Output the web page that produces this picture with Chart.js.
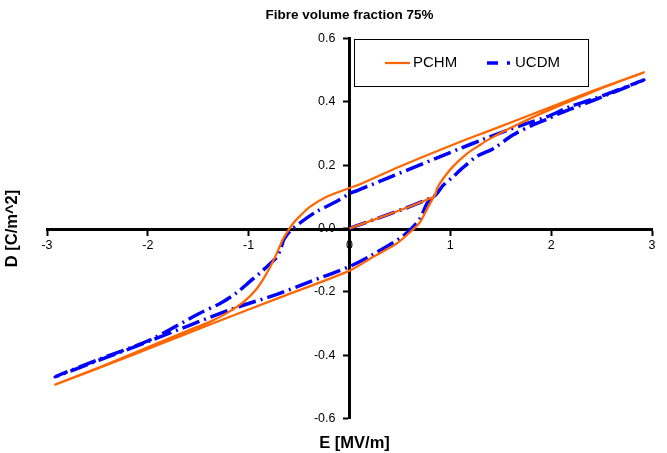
<!DOCTYPE html>
<html>
<head>
<meta charset="utf-8">
<script src="https://cdn.jsdelivr.net/npm/chart.js@4.4.1/dist/chart.umd.min.js"></script>
<style>
  html, body { margin: 0; padding: 0; background: #fff; }
  #wrap { width: 667px; height: 453px; position: relative; }
</style>
</head>
<body>
<div id="wrap"><canvas id="c" width="667" height="453"></canvas></div>
<script>
// ---- Data ----
const chartTitle = 'Fibre volume fraction 75%';
const xTitle = 'E [MV/m]';
const yTitle = 'D [C/m^2]';
const seriesNames = ['PCHM', 'UCDM'];

const xTicks = [-3, -2, -1, 0, 1, 2, 3];
const yTicks = [-0.6, -0.4, -0.2, 0.0, 0.2, 0.4, 0.6];

// PCHM: initial curve, ascending to +Emax, descending to -Emax, ascending back to join point
const pchmE = [0, 0.835, 0.87, 0.93, 1.03, 1.16, 1.29, 1.39, 1.6, 1.92, 2.4, 2.92,
  2.4, 1.9, 1.39, 1.1, 0.5, 0.104, 0, -0.226, -0.39, -0.49, -0.56, -0.62, -0.67, -0.71, -0.76, -0.84, -0.92, -1.05, -1.22, -1.38, -1.6, -1.9, -2.4, -2.92,
  -2.4, -1.9, -1.39, -0.7, 0, 0.236, 0.47, 0.62, 0.70, 0.77, 0.835];
const pchmD = [0, 0.100, 0.128, 0.158, 0.197, 0.235, 0.263, 0.283, 0.318, 0.366, 0.430, 0.493,
  0.433, 0.372, 0.309, 0.274, 0.196, 0.140, 0.128, 0.100, 0.069, 0.040, 0.016, -0.012, -0.040, -0.070, -0.105, -0.152, -0.190, -0.232, -0.268, -0.294, -0.322, -0.362, -0.428, -0.493,
  -0.430, -0.368, -0.304, -0.219, -0.133, -0.089, -0.047, -0.006, 0.020, 0.062, 0.100];

// UCDM: same path order
const ucdmE = [0, 0.83, 0.93, 1.03, 1.10, 1.26, 1.43, 1.62, 1.82, 1.96, 2.09, 2.42, 2.92,
  2.42, 2.19, 1.96, 1.76, 1.53, 1.33, 1.1, 0.07, 0, -0.13, -0.33, -0.49, -0.59, -0.65, -0.68, -0.72, -0.79, -0.89, -0.99, -1.12, -1.28, -1.5, -1.98, -2.5, -2.92,
  -2.5, -1.98, -1.19, -0.72, -0.39, 0, 0.2, 0.5, 0.6, 0.7, 0.77, 0.83];
const ucdmD = [0, 0.100, 0.137, 0.164, 0.185, 0.227, 0.253, 0.295, 0.327, 0.345, 0.364, 0.405, 0.469,
  0.409, 0.385, 0.353, 0.332, 0.306, 0.282, 0.253, 0.119, 0.110, 0.085, 0.053, 0.018, -0.008, -0.034, -0.062, -0.090, -0.112, -0.141, -0.168, -0.203, -0.236, -0.270, -0.352, -0.415, -0.468,
  -0.418, -0.355, -0.257, -0.208, -0.168, -0.120, -0.088, -0.031, -0.005, 0.032, 0.080, 0.100];

// ---- Build chart ----
const FONT = '"Liberation Sans", Arial, Helvetica, sans-serif';
const ORANGE = '#ff6600';
const BLUE = '#0000ff';
const BLUE_DASH = [18, 5, 2, 5];

function toPoints(xs, ys) { return xs.map((x, i) => ({ x: x, y: ys[i] })); }

const overlay = {
  id: 'overlay',
  afterDraw(chart) {
    const ctx = chart.ctx;
    const a = chart.chartArea;
    ctx.save();
    // axis titles
    ctx.fillStyle = '#000';
    ctx.font = 'bold 16.5px ' + FONT;
    ctx.textAlign = 'center';
    ctx.textBaseline = 'middle';
    ctx.fillText(xTitle, (a.left + a.right) / 2 + 5, a.bottom + 25);
    ctx.save();
    ctx.translate(12, (a.top + a.bottom) / 2);
    ctx.rotate(-Math.PI / 2);
    ctx.fillText(yTitle, 0, 0);
    ctx.restore();

    // legend box
    const bx = 354.5, by = 39.5, bw = 234, bh = 47;
    ctx.fillStyle = '#fff';
    ctx.fillRect(bx, by, bw, bh);
    ctx.strokeStyle = '#000';
    ctx.lineWidth = 1;
    ctx.strokeRect(bx, by, bw, bh);
    const ly = by + 23.5;
    const ds = chart.data.datasets;
    // PCHM
    ctx.beginPath();
    ctx.strokeStyle = ds[0].borderColor;
    ctx.lineWidth = ds[0].borderWidth;
    ctx.moveTo(385, ly); ctx.lineTo(410, ly);
    ctx.stroke();
    ctx.fillStyle = '#000';
    ctx.font = '15px ' + FONT;
    ctx.textAlign = 'left';
    ctx.fillText(ds[0].label, 413, ly);
    // UCDM
    ctx.beginPath();
    ctx.strokeStyle = ds[1].borderColor;
    ctx.lineWidth = ds[1].borderWidth;
    ctx.moveTo(487, ly); ctx.lineTo(498, ly);
    ctx.stroke();
    ctx.beginPath();
    ctx.moveTo(507, ly); ctx.lineTo(510, ly);
    ctx.stroke();
    ctx.fillText(ds[1].label, 515, ly);
    ctx.restore();
  }
};

new Chart(document.getElementById('c'), {
  type: 'scatter',
  data: {
    datasets: [
      {
        label: seriesNames[0],
        data: toPoints(pchmE, pchmD),
        showLine: true,
        borderColor: ORANGE,
        backgroundColor: ORANGE,
        borderWidth: 2.25,
        pointRadius: 0,
        tension: 0.3,
        fill: false
      },
      {
        label: seriesNames[1],
        data: toPoints(ucdmE, ucdmD),
        showLine: true,
        borderColor: BLUE,
        backgroundColor: BLUE,
        borderWidth: 3.5,
        borderDash: BLUE_DASH,
        pointRadius: 0,
        tension: 0.3,
        fill: false
      }
    ]
  },
  options: {
    responsive: false,
    animation: false,
    devicePixelRatio: 1,
    layout: { padding: { left: 47, right: 15, top: 0, bottom: 34.5 } },
    plugins: {
      legend: { display: false },
      tooltip: { enabled: false },
      title: {
        display: true,
        text: chartTitle,
        color: '#000',
        font: { family: FONT, size: 13.5, weight: 'bold' },
        padding: { top: 7, bottom: 15.3 }
      }
    },
    scales: {
      x: {
        type: 'linear',
        min: xTicks[0],
        max: xTicks[xTicks.length - 1],
        position: 'center',
        afterBuildTicks: (s) => { s.ticks = xTicks.map(v => ({ value: v })); },
        ticks: {
          color: '#000',
          font: { family: FONT, size: 12.5 },
          padding: 5,
          maxRotation: 0,
          callback: (v) => String(v)
        },
        grid: { drawOnChartArea: false, drawTicks: true, tickLength: 5, tickColor: '#000', tickWidth: 2 },
        border: { color: '#000', width: 3 }
      },
      y: {
        type: 'linear',
        min: yTicks[0],
        max: yTicks[yTicks.length - 1],
        position: 'center',
        afterBuildTicks: (s) => { s.ticks = yTicks.map(v => ({ value: v })); },
        ticks: {
          color: '#000',
          font: { family: FONT, size: 12.5 },
          padding: 9,
          callback: (v) => (Math.abs(v) < 1e-9 ? 0 : v).toFixed(1)
        },
        grid: { drawOnChartArea: false, drawTicks: true, tickLength: 5, tickColor: '#000', tickWidth: 2 },
        border: { color: '#000', width: 3 }
      }
    }
  },
  plugins: [overlay]
});
</script>
</body>
</html>
